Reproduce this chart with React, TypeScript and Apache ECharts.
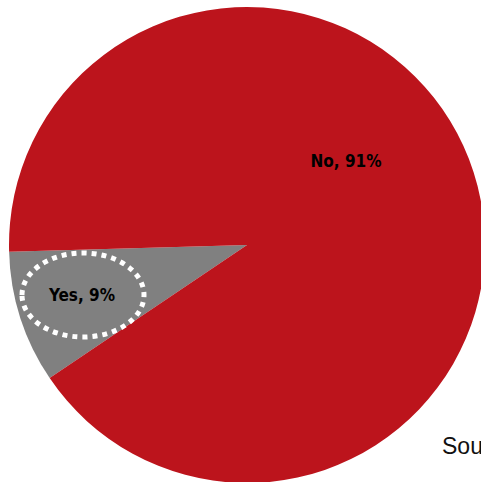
import React, { useEffect, useRef } from "react";
import * as echarts from "echarts";

const categories = ["Yes", "No"];
const values = [9, 91];
const colors = ["#808080", "#BC141C"];
const sourceText = "Source: Survey";

export default function App() {
  const ref = useRef<HTMLDivElement>(null);
  useEffect(() => {
    document.body.style.margin = "0";
    const chart = echarts.init(ref.current!, null, { renderer: "svg" });
    const labelPos = [
      { x: 82, y: 295 },
      { x: 346, y: 161 },
    ];
    chart.setOption({
      animation: false,
      backgroundColor: "#ffffff",
      series: [
        {
          type: "pie",
          center: [247, 245],
          radius: [0, 238],
          startAngle: 214,
          clockwise: true,
          silent: true,
          data: categories.map((c, i) => ({
            name: c,
            value: values[i],
            itemStyle: { color: colors[i], borderWidth: 0 },
          })),
          label: {
            show: true,
            position: "inside",
            formatter: (p: any) => `${p.name}, ${p.percent.toFixed(0)}%`,
            color: "#000000",
            fontSize: 17,
            fontWeight: "bold",
            fontFamily: "'Liberation Sans Narrow', 'DejaVu Sans Condensed', sans-serif",
          },
          labelLayout: (params: any) => ({
            x: labelPos[params.dataIndex].x,
            y: labelPos[params.dataIndex].y,
            align: "center",
            verticalAlign: "middle",
          }),
          labelLine: { show: false },
        },
      ],
      graphic: [
        {
          type: "ellipse",
          shape: { cx: 83, cy: 295, rx: 61, ry: 42 },
          style: { fill: null, stroke: "#ffffff", lineWidth: 5, lineDash: [5, 5] },
          z: 10,
        },
        {
          type: "text",
          x: 442,
          y: 446,
          style: {
            text: sourceText,
            fill: "#111111",
            fontSize: 23,
            fontFamily: "'Liberation Sans', Arial, sans-serif",
            verticalAlign: "middle",
          },
          z: 10,
        },
      ],
    });
    return () => chart.dispose();
  }, []);
  return <div ref={ref} style={{ width: 481, height: 482 }} />;
}
